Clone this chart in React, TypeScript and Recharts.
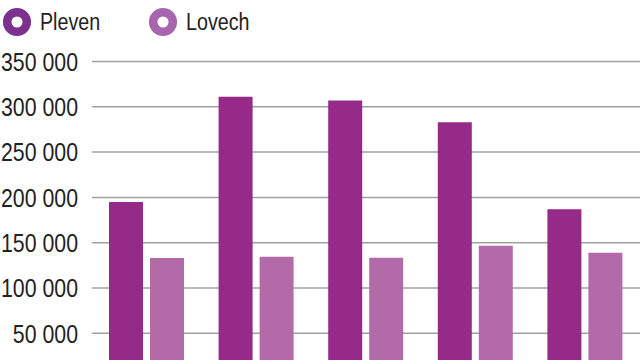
import React from 'react';
import { BarChart, Bar, XAxis, YAxis, CartesianGrid, Legend } from 'recharts';

const categories = ['2014', '2015', '2016', '2017', '2018'];
const seriesNames = ['Pleven', 'Lovech'];
const pleven = [195000, 311000, 307000, 283000, 187000];
const lovech = [133000, 134500, 133400, 146700, 139000];
const yTicks = [50000, 100000, 150000, 200000, 250000, 300000, 350000];

const data = categories.map((c, i) => ({ name: c, Pleven: pleven[i], Lovech: lovech[i] }));

const FONT = '"Liberation Sans", Arial, sans-serif';

const ringColors: Record<string, string> = { Pleven: '#7c318f', Lovech: '#a665ad' };
const legendX = [17, 163];

const formatTick = (v: number) => String(v).replace(/\B(?=(\d{3})+(?!\d))/g, ' ');

// narrow look: squeeze Liberation Sans horizontally
const NarrowTick = (props: any) => {
  const { x, y, payload } = props;
  return (
    <text
      transform={`translate(${x},${y}) scale(0.82,1)`}
      textAnchor="end"
      dominantBaseline="central"
      fontSize={26}
      fontFamily={FONT}
      fill="#222"
    >
      {formatTick(payload.value)}
    </text>
  );
};

const LegendContent = () => (
  <svg width={640} height={44} style={{ display: 'block' }}>
    {seriesNames.map((n, i) => (
      <g key={n}>
        <circle cx={legendX[i]} cy={22} r={9.8} fill="none" stroke={ringColors[n]} strokeWidth={8.5} />
        <text
          transform={`translate(${legendX[i] + 23},${22}) scale(0.82,1)`}
          dominantBaseline="central"
          fontSize={24}
          fontFamily={FONT}
          fill="#222"
        >
          {n}
        </text>
      </g>
    ))}
  </svg>
);

export default function App() {
  return (
    <div style={{ width: 640, height: 360, overflow: 'hidden', background: '#fff' }}>
      <style>{'body{margin:0}'}</style>
      <BarChart
        width={640}
        height={400}
        data={data}
        margin={{ top: 17.5, right: 0, bottom: 21.4, left: 0 }}
        barCategoryGap={17}
        barGap={7}
      >
        <CartesianGrid vertical={false} stroke="#a0a0a0" strokeWidth={1.5} />
        <XAxis dataKey="name" hide />
        <YAxis
          width={92}
          domain={[0, 350000]}
          ticks={yTicks}
          axisLine={false}
          tickLine={false}
          tickMargin={8}
          tick={<NarrowTick />}
          interval={0}
        />
        <Legend
          verticalAlign="top"
          align="left"
          height={44}
          wrapperStyle={{ top: 0, left: 0 }}
          content={<LegendContent />}
        />
        <Bar dataKey="Pleven" fill="#952a88" isAnimationActive={false} />
        <Bar dataKey="Lovech" fill="#b36aa9" isAnimationActive={false} />
      </BarChart>
    </div>
  );
}
